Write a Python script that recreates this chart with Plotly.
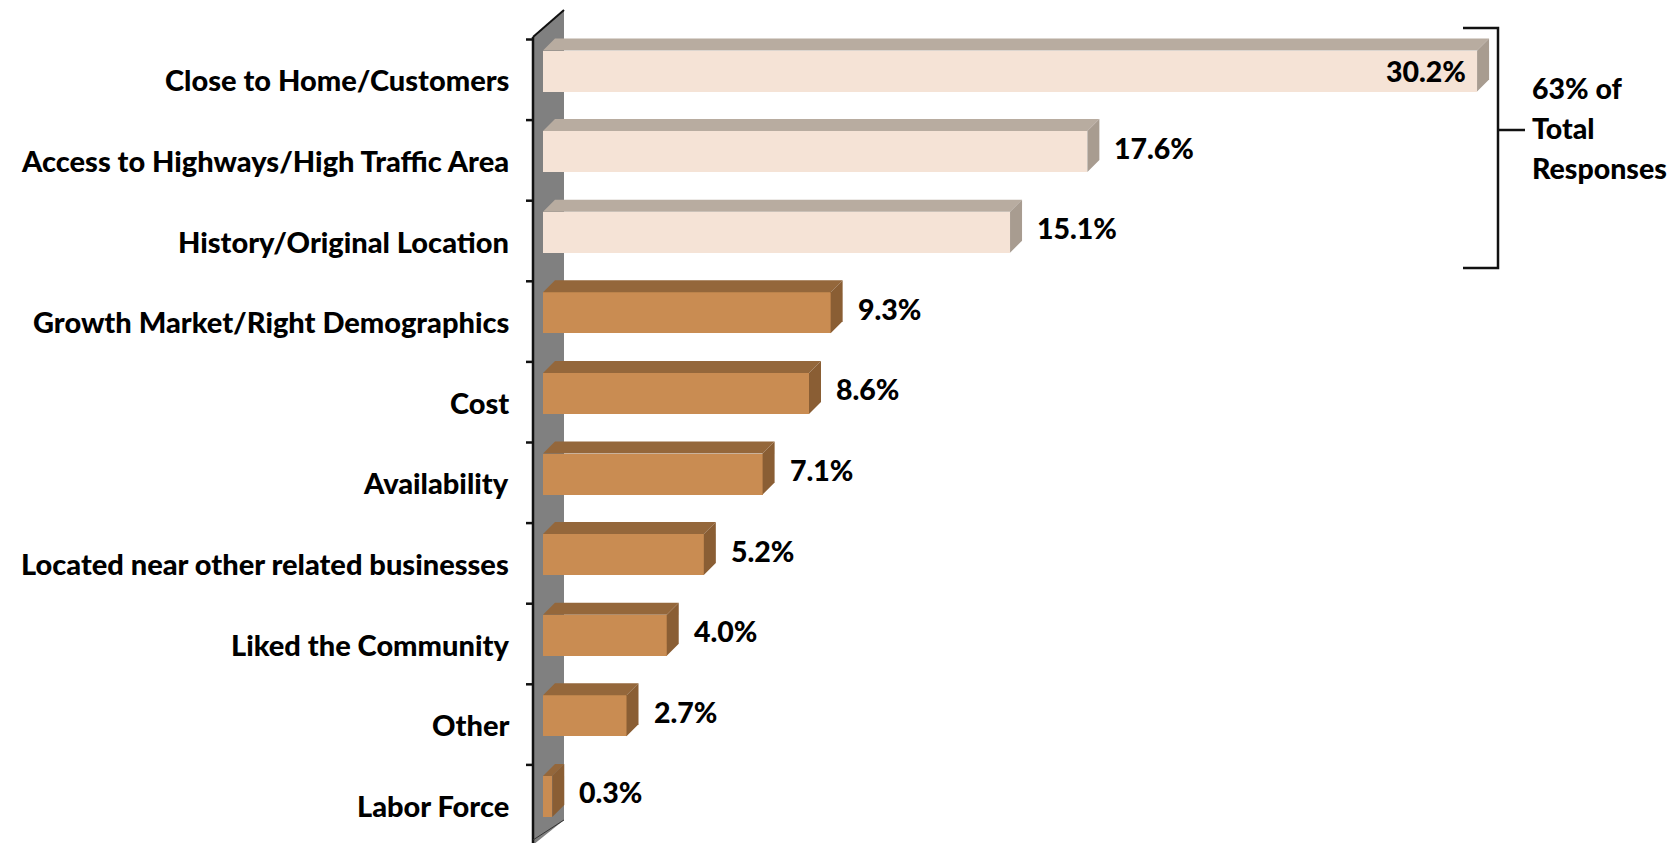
import plotly.graph_objects as go

categories = [
    "Close to Home/Customers",
    "Access to Highways/High Traffic Area",
    "History/Original Location",
    "Growth Market/Right Demographics",
    "Cost",
    "Availability",
    "Located near other related businesses",
    "Liked the Community",
    "Other",
    "Labor Force",
]
values = [30.2, 17.6, 15.1, 9.3, 8.6, 7.1, 5.2, 4.0, 2.7, 0.3]
group_top3 = [True, True, True, False, False, False, False, False, False, False]
bracket_text = ["63% of", "Total", "Responses"]

W, H = 1675, 843
PXX = 30.93      # px per percent
PXY = 80.6       # px per category band
X0 = 543         # px of value 0
Y0 = 39.5        # px of top of first band
L = 497

def xd(p):
    return (p - X0) / PXX

def yd(p):
    return (p - Y0) / PXY - 0.5

DX = 12 / PXX
DY = 12 / PXY

FONT = "Lato"
WEIGHT = 900
CAT_SIZE = 29
VAL_SIZE = 28.5
light = dict(front="#F5E3D6", top="#B8ACA0", side="#A89C90")
orange = dict(front="#C98C52", top="#94673B", side="#8A5E34")

ypos = list(range(len(categories)))
fw = 41 / PXY
foff = 11 / PXY - 0.5

fig = go.Figure()
fig.add_trace(go.Bar(
    x=values, y=ypos, orientation="h",
    width=fw, offset=foff,
    marker=dict(color=[light["front"] if g else orange["front"] for g in group_top3],
                line=dict(width=0)),
    hoverinfo="skip", showlegend=False,
))

shapes = []
# wall
wall_path = (f"M {xd(533)},{yd(845)} L {xd(533)},{yd(37)} L {xd(564)},{yd(10)} "
             f"L {xd(564)},{yd(820)} Z")
shapes.append(dict(type="path", path=wall_path, xref="x", yref="y",
                   fillcolor="#808080", line=dict(width=0), layer="below"))
shapes.append(dict(type="line", xref="x", yref="y", x0=xd(533), x1=xd(533),
                   y0=yd(37), y1=yd(845), line=dict(color="#111", width=2.5)))
shapes.append(dict(type="line", xref="x", yref="y", x0=xd(533), x1=xd(564),
                   y0=yd(37), y1=yd(10), line=dict(color="#111", width=2)))
shapes.append(dict(type="line", xref="x", yref="y", x0=xd(533), x1=xd(564),
                   y0=yd(840), y1=yd(820), line=dict(color="#333", width=1)))
# ticks at band boundaries
for k in range(len(categories) + 1):
    yb = k - 0.5
    shapes.append(dict(type="line", xref="x", yref="y", x0=xd(526), x1=xd(533),
                       y0=yb, y1=yb, line=dict(color="#111", width=2.5)))

# 3D faces
for i, (v, g) in enumerate(zip(values, group_top3)):
    c = light if g else orange
    top = i + foff
    bot = top + fw
    shapes.append(dict(type="path", xref="x", yref="y",
                       path=f"M 0,{top} L {DX},{top-DY} L {v+DX},{top-DY} L {v},{top} Z",
                       fillcolor=c["top"], line=dict(width=0)))
    shapes.append(dict(type="path", xref="x", yref="y",
                       path=f"M {v},{top} L {v+DX},{top-DY} L {v+DX},{bot-DY} L {v},{bot} Z",
                       fillcolor=c["side"], line=dict(width=0)))

# bracket
bx = xd(1498)
shapes.append(dict(type="path", xref="x", yref="y",
                   path=f"M {xd(1463)},{yd(28)} L {bx},{yd(28)} L {bx},{yd(268)} L {xd(1463)},{yd(268)}",
                   line=dict(color="#111", width=2.5)))
shapes.append(dict(type="line", xref="x", yref="y", x0=bx, x1=xd(1525),
                   y0=yd(130), y1=yd(130), line=dict(color="#111", width=2.5)))

annotations = []
for i, (cat, v) in enumerate(zip(categories, values)):
    annotations.append(dict(x=xd(511), y=i, xref="x", yref="y", text=cat,
                            showarrow=False, xanchor="right", yanchor="middle",
                            font=dict(family=FONT, size=CAT_SIZE, color="#000", weight=WEIGHT)))
    yc = i + foff + fw / 2
    if v == max(values):
        annotations.append(dict(x=v - 9 / PXX, y=yc, xref="x", yref="y", text=f"{v:.1f}%",
                                showarrow=False, xanchor="right", yanchor="middle",
                                font=dict(family=FONT, size=VAL_SIZE, color="#000", weight=WEIGHT)))
    else:
        annotations.append(dict(x=v + 25 / PXX, y=yc - 4 / PXY, xref="x", yref="y", text=f"{v:.1f}%",
                                showarrow=False, xanchor="left", yanchor="middle",
                                font=dict(family=FONT, size=VAL_SIZE, color="#000", weight=WEIGHT)))
for j, t in enumerate(bracket_text):
    annotations.append(dict(x=xd(1530), y=yd(88 + 40 * j), xref="x", yref="y", text=t,
                            showarrow=False, xanchor="left", yanchor="middle",
                            font=dict(family=FONT, size=VAL_SIZE, color="#000", weight=WEIGHT)))

fig.update_layout(
    width=W, height=H,
    margin=dict(l=L, r=0, t=0, b=0),
    paper_bgcolor="white", plot_bgcolor="white",
    xaxis=dict(range=[xd(L), xd(W)], visible=False, fixedrange=True),
    yaxis=dict(range=[yd(H), yd(0)], visible=False, fixedrange=True),
    shapes=shapes, annotations=annotations,
    bargap=0, showlegend=False,
)
fig.write_html("out.html", config={"displayModeBar": False},
               post_script="document.body.style.margin='0';document.body.style.overflow='hidden';")
